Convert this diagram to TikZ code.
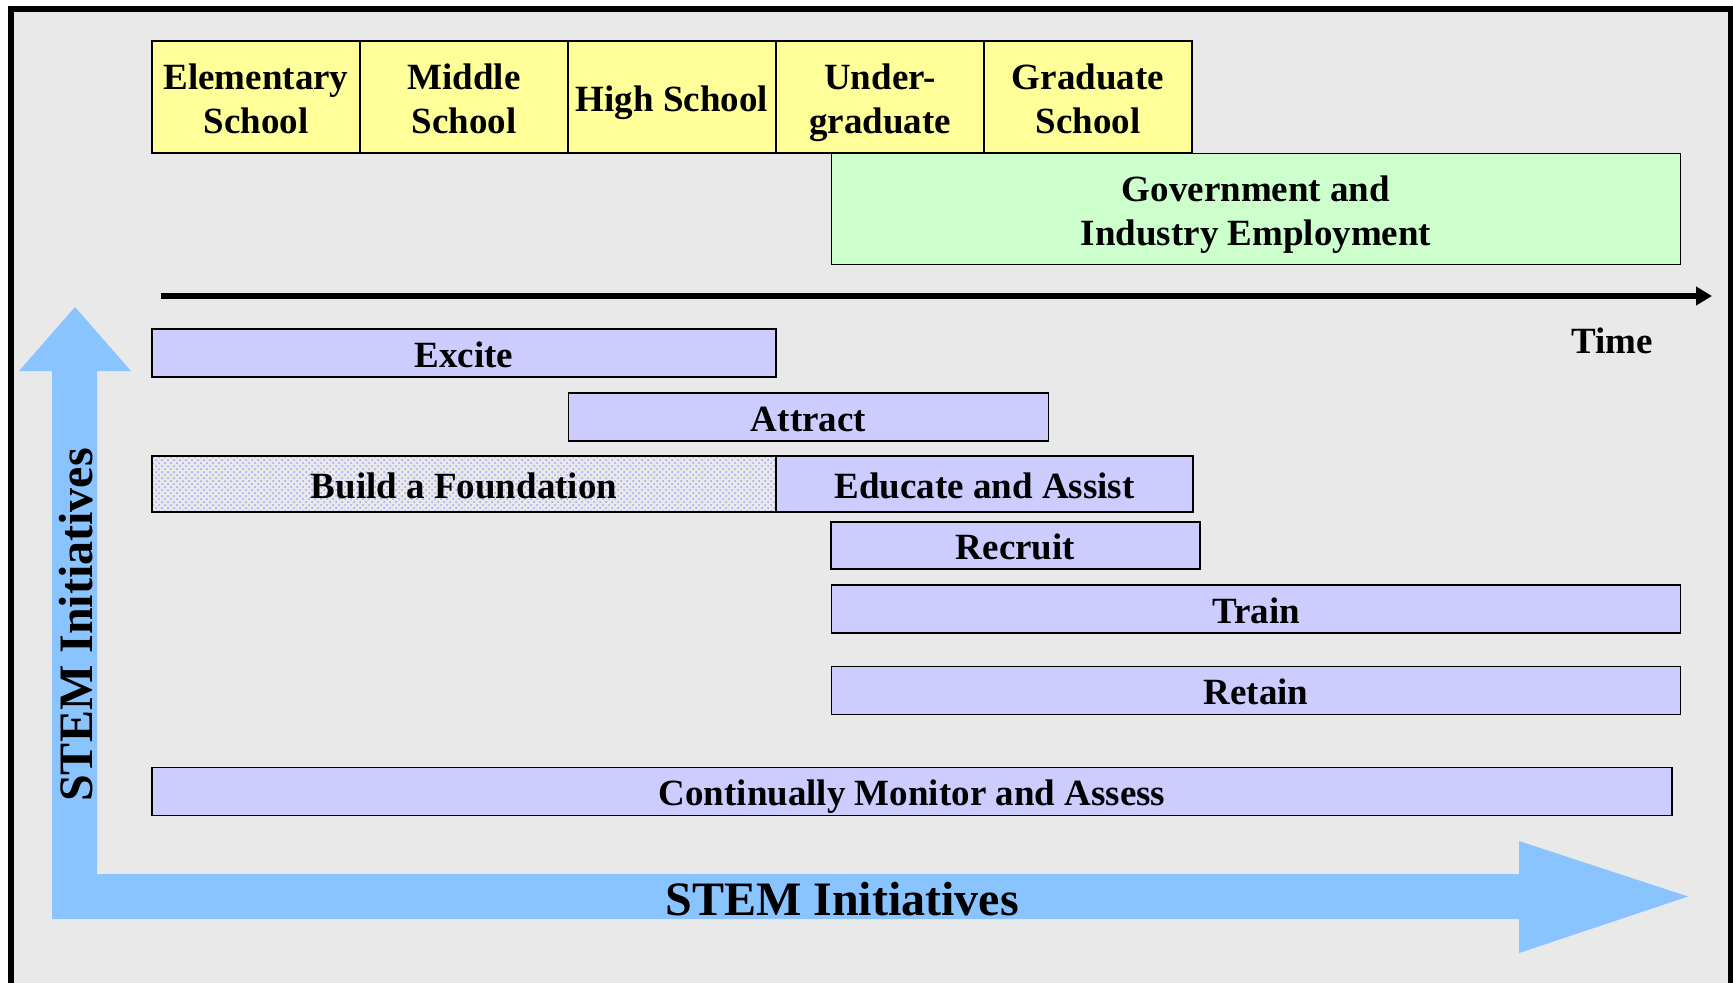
\documentclass[tikz,border=0pt]{standalone}
\usepackage{fontspec}
\setmainfont{Liberation Serif}
\usetikzlibrary{positioning,arrows.meta,patterns}
\definecolor{bggray}{RGB}{233,233,233}
\definecolor{stageyellow}{RGB}{255,255,153}
\definecolor{jobgreen}{RGB}{204,255,204}
\definecolor{barblue}{RGB}{204,204,255}
\definecolor{dotblue}{RGB}{160,160,255}
\definecolor{arrowblue}{RGB}{138,196,255}
\tikzset{
    boxtext/.style={
    font=\fontsize{18.5}{22}\selectfont\bfseries,
    align=center,
    inner sep=0pt,
    outer sep=0pt,
    text height=14pt,
    text depth=0pt,
    line width=0.9pt
  },
  twoline/.style={
    text height=36pt
  },
  stage/.style={
    boxtext,
    twoline,
    draw,
    fill=stageyellow,
    minimum width=104pt,
    minimum height=56pt
  },
  bar/.style={
    boxtext,
    draw,
    fill=barblue,
    minimum height=24pt
  },
  bigtext/.style={
    font=\fontsize{24}{28}\selectfont\bfseries,
    inner sep=0pt
  }
}

\begin{document}
\begin{tikzpicture}[x=0.5pt, y=-0.5pt]
  \clip (0,0) rectangle (1733,982);
  \draw[line width=3pt, fill=bggray] (11,9) rectangle (1731,1010);

  % big L shaped arrow
  \fill[arrowblue] (75,307) -- (131,371) -- (97,371) -- (97,874) -- (1519,874)
    -- (1519,841) -- (1688,896.5) -- (1519,953) -- (1519,919) -- (52,919)
    -- (52,371) -- (19,371) -- cycle;
  \node[bigtext] (axis_x) at (842,899) {STEM Initiatives};
  \node[bigtext, rotate=90] (axis_y) at (76,625) {STEM Initiatives};

  % school stages
  \node[stage] (s_1) at (256,97) {Elementary\\School};
  \node[stage] (s_2) [right=0pt of s_1] {Middle\\School};
  \node[stage, text height=14pt] (s_3) [right=0pt of s_2] {High School};
  \node[stage] (s_4) [right=0pt of s_3] {Under-\\graduate};
  \node[stage] (s_5) [right=0pt of s_4] {Graduate\\School};
  \node[boxtext, twoline, draw, fill=jobgreen, minimum width=424.5pt, minimum height=55.5pt] (job) at (1256,209) {Government and\\Industry Employment};

  % time axis
  \coordinate (t_start) at (161,296);
  \coordinate (t_end) at (1712,296);
  \draw[line width=3pt, -{Triangle[length=8pt,width=9pt]}] (t_start) -- (t_end);
  \node[boxtext] (time) at (1612,339) {Time};

  % initiatives
  \node[bar, minimum width=312pt] (b_excite) at (464,353) {Excite};
  \node[bar, minimum width=240pt] (b_attract) at (808.5,417) {Attract};
  \node[bar, fill=none, pattern=crosshatch dots, pattern color=dotblue, minimum width=312pt, minimum height=28pt] (b_found) at (464,484) {Build a Foundation};
  \node[bar, minimum width=208.5pt, minimum height=28pt] (b_educate) at (984.5,484) {Educate and Assist};
  \node[bar, minimum width=184.5pt, minimum height=23.5pt] (b_recruit) at (1015.5,545.5) {Recruit};
  \node[bar, minimum width=424.5pt] (b_train) at (1256,609) {Train};
  \node[bar, minimum width=424.5pt] (b_retain) at (1256,690.5) {Retain};
  \node[bar, minimum width=760pt] (b_monitor) at (912,791.5) {Continually Monitor and Assess};
\end{tikzpicture}
\end{document}
